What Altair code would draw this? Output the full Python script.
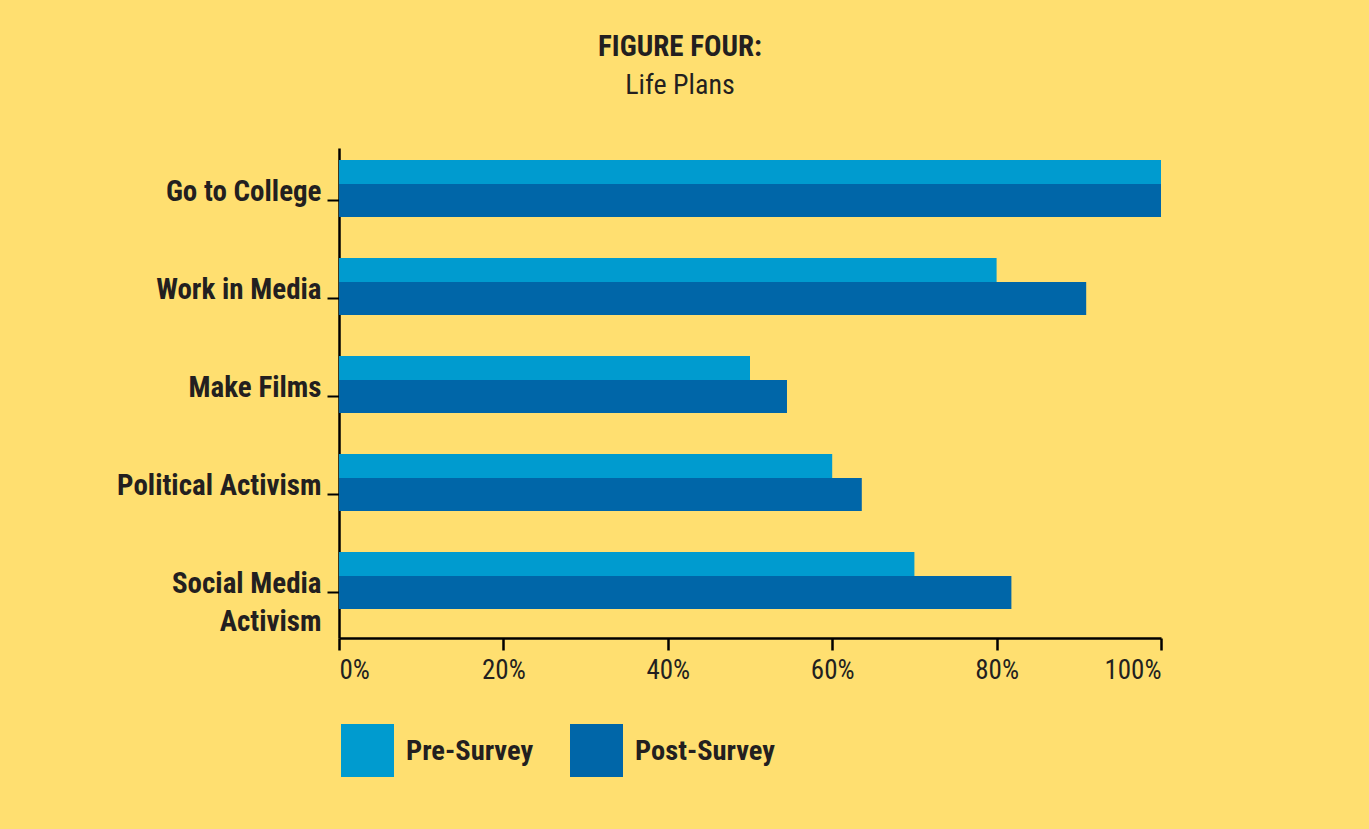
import altair as alt
import pandas as pd

categories = ["Go to College", "Work in Media", "Make Films", "Political Activism", "Social Media Activism"]
pre_survey = [100, 80, 50, 60, 70]
post_survey = [100, 90.9, 54.5, 63.6, 81.8]
series = ["Pre-Survey", "Post-Survey"]
x_ticks = [0, 20, 40, 60, 80, 100]

rows = []
for c, v in zip(categories, pre_survey):
    rows.append({"Category": c, "Survey": "Pre-Survey", "Value": v})
for c, v in zip(categories, post_survey):
    rows.append({"Category": c, "Survey": "Post-Survey", "Value": v})
df = pd.DataFrame(rows)

BG = "#FFDF70"
TXT = "#231F20"
FONT = "Roboto Condensed, Liberation Sans Narrow, DejaVu Sans Condensed, sans-serif"

color_scale = alt.Scale(domain=series, range=["#009BCF", "#0066A8"])

y_enc = alt.Y(
    "Category:N",
    sort=categories,
    scale=alt.Scale(paddingInner=0, paddingOuter=0),
    axis=alt.Axis(
        title=None,
        domainColor="black",
        domainWidth=2.5,
        tickColor="black",
        tickWidth=2,
        tickSize=12,
        tickOffset=3,
        labelFont=FONT,
        labelFontWeight="bold",
        labelFontSize=29,
        labelColor=TXT,
        labelPadding=6,
        labelBaseline="alphabetic",
        labelLineHeight=38,
        labelLimit=400,
        labelExpr="datum.value == 'Social Media Activism' ? ['Social Media', 'Activism'] : datum.label",
    ),
)

x_enc = alt.X(
    "Value:Q",
    scale=alt.Scale(domain=[0, 100], nice=False),
    axis=alt.Axis(
        title=None,
        values=x_ticks,
        domainColor="black",
        domainWidth=2.5,
        tickColor="black",
        tickWidth=2.5,
        tickSize=12,
        labelFont=FONT,
        labelFontSize=27,
        labelColor=TXT,
        labelPadding=7,
        grid=False,
        labelExpr="datum.value + '%'",
    ),
)

color_enc = alt.Color(
    "Survey:N",
    scale=color_scale,
    sort=series,
    legend=alt.Legend(
        title=None,
        orient="none",
        legendX=2,
        legendY=576,
        direction="horizontal",
        symbolType="square",
        symbolSize=2809,
        symbolStrokeWidth=0,
        symbolOpacity=1,
        labelFont=FONT,
        labelFontWeight="bold",
        labelFontSize=28.5,
        labelColor=TXT,
        labelOffset=12,
        columnPadding=36,
        padding=0,
        labelLimit=300,
    ),
)

pre = (
    alt.Chart(df)
    .transform_filter(alt.datum.Survey == "Pre-Survey")
    .mark_bar(size=24, yOffset=-25)
    .encode(y=y_enc, x=x_enc, color=color_enc)
)
post = (
    alt.Chart(df)
    .transform_filter(alt.datum.Survey == "Post-Survey")
    .mark_bar(size=33, yOffset=3.5)
    .encode(y=y_enc, x=x_enc, color=color_enc)
)

chart = (
    alt.layer(pre, post)
    .properties(
        width=822,
        height=490,
        title=alt.TitleParams(
            text="FIGURE FOUR:",
            subtitle="Life Plans",
            anchor="middle",
            dx=-70,
            offset=48,
            font=FONT,
            fontSize=29,
            fontWeight="bold",
            color=TXT,
            subtitleFont=FONT,
            subtitleFontSize=28,
            subtitleColor=TXT,
            subtitlePadding=10,
        ),
        autosize=alt.AutoSizeParams(type="none"),
        padding={"left": 339, "top": 148, "right": 208, "bottom": 191},
    )
    .configure(background=BG)
    .configure_view(stroke=None)
)

chart.save("out.html", embed_options={"renderer": "svg", "actions": False})
